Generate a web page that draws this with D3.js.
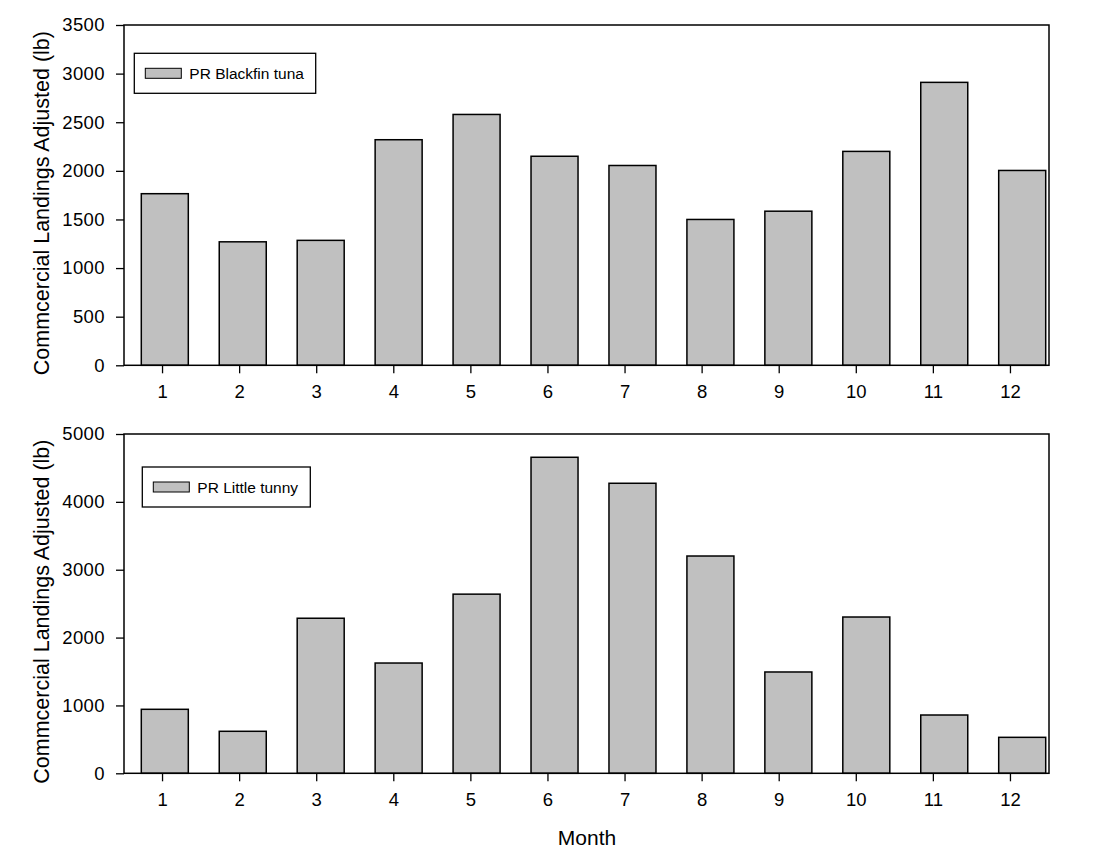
<!DOCTYPE html>
<html><head><meta charset="utf-8">
<script src="https://cdn.jsdelivr.net/npm/d3@7"></script>
<style>body{margin:0;background:#fff}svg{display:block}text{font-family:Arial,"Liberation Sans",sans-serif;fill:#000}</style>
</head><body>
<script>
const months = [1,2,3,4,5,6,7,8,9,10,11,12];
const blackfin = [1765,1270,1285,2320,2580,2150,2055,1500,1585,2200,2910,2004];
const tunny = [943,619,2285,1625,2640,4657,4274,3202,1493,2303,859,530];
const yTicksTop = [0,500,1000,1500,2000,2500,3000,3500];
const yTicksBottom = [0,1000,2000,3000,4000,5000];
const yTitle = "Commcercial Landings Adjusted (lb)";
const xTitle = "Month";

const W = 1109, H = 860;
const svg = d3.select("body").append("svg").attr("width", W).attr("height", H);

const left = 124, right = 1049;
const xTick = d3.scaleBand().domain(months).range([left, right]).padding(0);
const xBar = d3.scaleBand().domain(months).range([141.3, 1045.7]).paddingInner(0.397).paddingOuter(0);

function panel(values, ticks, yMax, top, bottom, legendLabel, legendBox) {
  const y = d3.scaleLinear().domain([0, yMax]).range([bottom, top]);
  const g = svg.append("g");
  g.selectAll("rect.bar").data(values).join("rect").attr("class","bar")
    .attr("x", (d,i) => xBar(months[i])).attr("width", xBar.bandwidth())
    .attr("y", d => y(d)).attr("height", d => y(0) - y(d))
    .attr("fill", "#c0c0c0").attr("stroke", "#000").attr("stroke-width", 1.5);
  g.append("rect").attr("x", left).attr("y", top).attr("width", right-left).attr("height", bottom-top)
    .attr("fill","none").attr("stroke","#000").attr("stroke-width",1.5);
  const ya = g.append("g").attr("transform", `translate(${left},0)`)
    .call(d3.axisLeft(y).tickValues(ticks).tickSize(8).tickPadding(11).tickFormat(d3.format("d")));
  ya.select(".domain").remove();
  ya.selectAll("line").attr("stroke","#000").attr("stroke-width",1.3);
  ya.selectAll("text").attr("font-size", 18.5).attr("letter-spacing", 0.4)
    .attr("font-family","Arial, 'Liberation Sans', sans-serif").attr("fill","#000");
  const xa = g.append("g").attr("transform", `translate(0,${bottom})`)
    .call(d3.axisBottom(xTick).tickSize(8).tickPadding(12));
  xa.select(".domain").remove();
  xa.selectAll("line").attr("stroke","#000").attr("stroke-width",1.3);
  xa.selectAll("text").attr("font-size", 18.5)
    .attr("font-family","Arial, 'Liberation Sans', sans-serif").attr("fill","#000");
  g.append("text").attr("transform", `translate(49,${(top+bottom)/2 + 8}) rotate(-90)`)
    .attr("text-anchor","middle").attr("font-size", 21.5).text(yTitle);
  const [lx, ly, lw, lh] = legendBox;
  g.append("rect").attr("x", lx).attr("y", ly).attr("width", lw).attr("height", lh)
    .attr("fill","#fff").attr("stroke","#000").attr("stroke-width",1.3);
  g.append("rect").attr("x", lx+11).attr("y", ly+lh/2-5).attr("width", 36).attr("height", 10)
    .attr("fill","#c0c0c0").attr("stroke","#000").attr("stroke-width",1);
  g.append("text").attr("x", lx+55).attr("y", ly+lh/2+5.5).attr("font-size", 15.5).text(legendLabel);
}

panel(blackfin, yTicksTop, 3500, 25, 365.3, "PR Blackfin tuna", [134.3, 53.3, 181.4, 40]);
panel(tunny, yTicksBottom, 5000, 434, 773.3, "PR Little tunny", [142.3, 467, 168, 40]);

svg.append("text").attr("x", 587).attr("y", 845).attr("text-anchor","middle").attr("font-size", 21).text(xTitle);
</script>
</body></html>
